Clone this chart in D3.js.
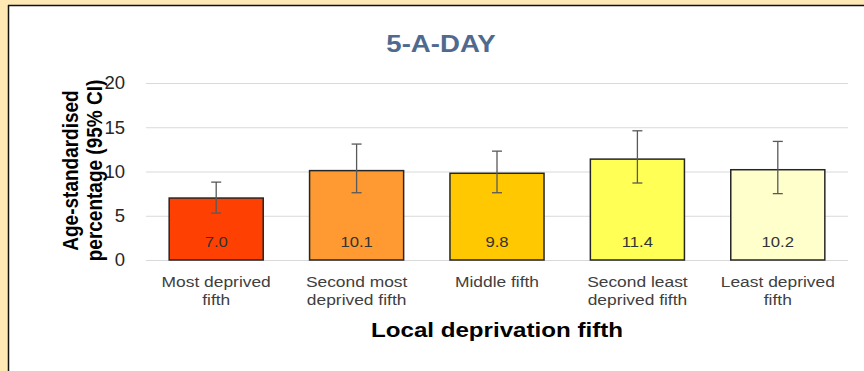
<!DOCTYPE html>
<html>
<head>
<meta charset="utf-8">
<script src="https://cdn.jsdelivr.net/npm/d3@7"></script>
<style>
  html, body { margin: 0; padding: 0; background: #fee8b4; }
  svg { display: block; }
</style>
</head>
<body>
<svg id="chart" width="864" height="371"></svg>
<script>
// ---- data ----
const categories = ["Most deprived fifth", "Second most deprived fifth", "Middle fifth", "Second least deprived fifth", "Least deprived fifth"];
const categoryLines = [["Most deprived", "fifth"], ["Second most", "deprived fifth"], ["Middle fifth"], ["Second least", "deprived fifth"], ["Least deprived", "fifth"]];
const values = [7.0, 10.1, 9.8, 11.4, 10.2];
const lowerCI = [5.3, 7.6, 7.6, 8.7, 7.5];
const upperCI = [8.8, 13.1, 12.3, 14.6, 13.4];
const barColors = ["#fe4103", "#fe9a31", "#ffc800", "#ffff55", "#ffffcc"];
const yTicks = [0, 5, 10, 15, 20];
const titleText = "5-A-DAY";
const xTitle = "Local deprivation fifth";
const yTitleLines = ["Age-standardised", "percentage (95% CI)"];

// ---- layout ----
const W = 864, H = 371;
const svg = d3.select("#chart");
const font = "'Liberation Sans', Arial, sans-serif";
const SX = 1.15; // horizontal stretch of the original rendering

// background panel
svg.append("rect").attr("x", 0).attr("y", 0).attr("width", W).attr("height", H).attr("fill", "#fee8b4");
svg.append("rect").attr("x", 9).attr("y", 6).attr("width", W - 9).attr("height", H - 6).attr("fill", "#ffffff");
svg.append("line").attr("x1", 8.5).attr("x2", 8.5).attr("y1", 5).attr("y2", H).attr("stroke", "#111").attr("stroke-width", 1.5);
svg.append("line").attr("x1", 8).attr("x2", W).attr("y1", 5.5).attr("y2", 5.5).attr("stroke", "#111").attr("stroke-width", 1.5);

const plot = { left: 146, right: 848, top: 83, bottom: 260 };

const x = d3.scaleBand().domain(categories).range([plot.left, plot.right]).paddingInner(0.33).paddingOuter(0.165);
const y = d3.scaleLinear().domain([0, 20]).range([plot.bottom, plot.top]);

function stretchedText(g, cx, cy, lines, opts) {
  const t = g.append("text")
    .attr("transform", `translate(${cx},${cy}) scale(${opts.sx || SX},1)`)
    .attr("text-anchor", "middle").attr("font-family", font)
    .attr("font-size", opts.size).attr("font-weight", opts.weight || "normal")
    .attr("fill", opts.fill);
  lines.forEach((ln, j) => {
    t.append("tspan").attr("x", 0).attr("dy", j === 0 ? 0 : (opts.lh || 18)).text(ln);
  });
  return t;
}

// gridlines
svg.append("g").selectAll("line").data(yTicks).join("line")
  .attr("x1", plot.left).attr("x2", plot.right)
  .attr("y1", d => y(d) + 0.5).attr("y2", d => y(d) + 0.5)
  .attr("stroke", "#d9d9d9").attr("stroke-width", 1);

// y axis tick labels
const yAxis = d3.axisLeft(y).tickValues(yTicks).tickSize(0).tickPadding(0).tickFormat(d3.format("d"));
const yg = svg.append("g").attr("transform", `translate(${plot.left - 21},0)`).call(yAxis);
yg.select(".domain").remove();
yg.selectAll("text").attr("font-family", font).attr("font-size", 18.5).attr("fill", "#262626");

// bars
svg.append("g").selectAll("rect").data(categories).join("rect")
  .attr("x", d => x(d)).attr("width", x.bandwidth())
  .attr("y", (d, i) => y(values[i])).attr("height", (d, i) => y(0) - y(values[i]))
  .attr("fill", (d, i) => barColors[i])
  .attr("stroke", "#262626").attr("stroke-width", 1.5);

// error bars
const eb = svg.append("g").attr("stroke", "#595959").attr("stroke-width", 1.3);
categories.forEach((c, i) => {
  const cx = x(c) + x.bandwidth() / 2;
  eb.append("line").attr("x1", cx).attr("x2", cx).attr("y1", y(upperCI[i])).attr("y2", y(lowerCI[i]));
  eb.append("line").attr("x1", cx - 5).attr("x2", cx + 5).attr("y1", y(upperCI[i])).attr("y2", y(upperCI[i]));
  eb.append("line").attr("x1", cx - 5).attr("x2", cx + 5).attr("y1", y(lowerCI[i])).attr("y2", y(lowerCI[i]));
});

// value labels
const vl = svg.append("g");
categories.forEach((c, i) => {
  stretchedText(vl, x(c) + x.bandwidth() / 2, 247, [values[i].toFixed(1)], { size: 14.5, fill: "#333" });
});

// category labels
const cl = svg.append("g");
categories.forEach((c, i) => {
  stretchedText(cl, x(c) + x.bandwidth() / 2, 287, categoryLines[i], { size: 14.5, fill: "#404040", sx: 1.2, lh: 18 });
});

// title
stretchedText(svg, 441, 52, [titleText], { size: 24, weight: "bold", fill: "#4f6a8e" });

// x axis title
stretchedText(svg, 497, 337, [xTitle], { size: 21, weight: "bold", fill: "#000" });

// y axis title (rotated, with the same horizontal stretch)
const yt = svg.append("text")
  .attr("transform", `translate(78,${(plot.top + plot.bottom) / 2 - 1}) scale(${SX},1) rotate(-90)`)
  .attr("text-anchor", "middle").attr("font-family", font).attr("font-weight", "bold").attr("font-size", 19)
  .attr("fill", "#000");
yTitleLines.forEach((ln, j) => {
  yt.append("tspan").attr("x", 0).attr("dy", j === 0 ? 0 : 20.5).text(ln);
});
</script>
</body>
</html>
